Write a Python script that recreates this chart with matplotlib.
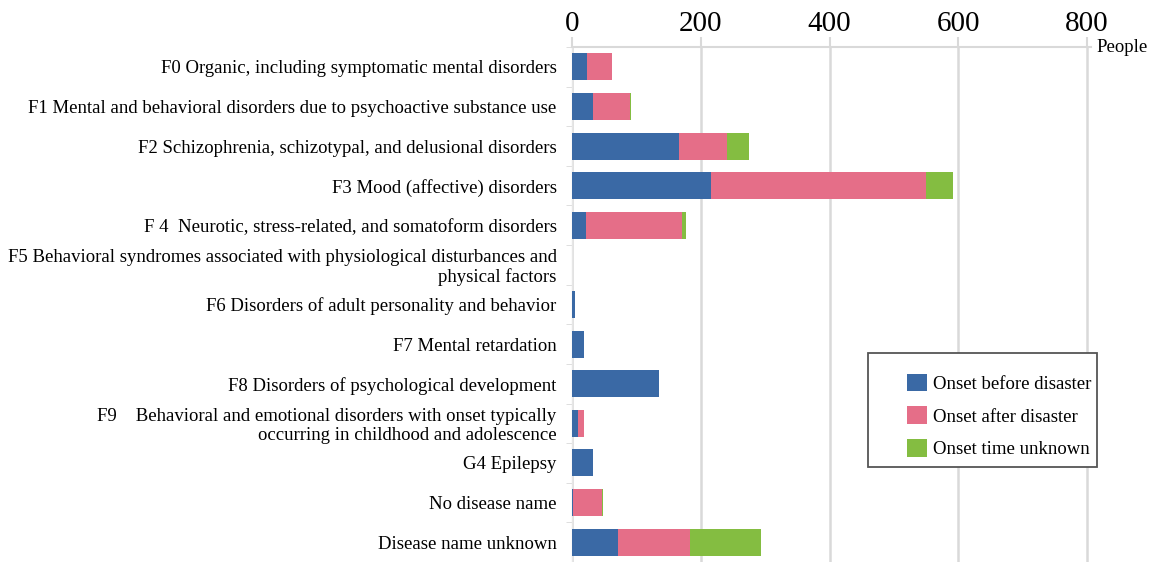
import numpy as np
import matplotlib.pyplot as plt
from matplotlib.patches import Rectangle

# categories and values (people)
categories = [
    'F0 Organic, including symptomatic mental disorders',
    'F1 Mental and behavioral disorders due to psychoactive substance use',
    'F2 Schizophrenia, schizotypal, and delusional disorders',
    'F3 Mood (affective) disorders',
    'F 4  Neurotic, stress-related, and somatoform disorders',
    'F5 Behavioral syndromes associated with physiological disturbances and\nphysical factors',
    'F6 Disorders of adult personality and behavior',
    'F7 Mental retardation',
    'F8 Disorders of psychological development',
    'F9    Behavioral and emotional disorders with onset typically\noccurring in childhood and adolescence',
    'G4 Epilepsy',
    'No disease name',
    'Disease name unknown',
]
before = [23, 33, 166, 216, 21, 0, 5, 19, 135, 9, 32, 1, 72]
after = [39, 57, 75, 334, 150, 0, 0, 0, 0, 9, 0, 45, 111]
unknown = [0, 2, 34, 41, 6, 0, 0, 0, 0, 0, 0, 2, 110]
series_names = ['Onset before disaster', 'Onset after disaster', 'Onset time unknown']
colors = ['#3A69A5', '#E56E88', '#84BD41']
xticks = [0, 200, 400, 600, 800]

plt.rcParams['font.family'] = ['Liberation Serif', 'DejaVu Serif']

fig = plt.figure(figsize=(11.68, 5.62), dpi=100)
ax = fig.add_axes([572 / 1168, 0.0, (1091 - 572) / 1168, 1 - 47 / 562])

y = np.arange(len(categories))
b = np.array(before)
a = np.array(after)
u = np.array(unknown)
h = 0.68
ax.barh(y, b, height=h, color=colors[0], label=series_names[0], zorder=3)
ax.barh(y, a, left=b, height=h, color=colors[1], label=series_names[1], zorder=3)
ax.barh(y, u, left=b + a, height=h, color=colors[2], label=series_names[2], zorder=3)

ax.set_xlim(0, 806)
ax.set_ylim(len(categories) - 0.5, -0.5)

ax.xaxis.tick_top()
ax.set_xticks(xticks)
ax.set_xticklabels([str(t) for t in xticks], fontsize=21)
ax.tick_params(axis='x', length=7, width=1.5, color='#d9d9d9', pad=0)
ax.grid(axis='x', color='#d9d9d9', linewidth=1.8, zorder=0)

ax.set_yticks(y)
ax.set_yticklabels(categories, fontsize=13.5, ha='right', linespacing=1.1)
ax.tick_params(axis='y', length=0, pad=11)
ax.set_yticks(np.arange(len(categories) + 1) - 0.5, minor=True)
ax.tick_params(axis='y', which='minor', length=4, color='#d9d9d9')

for s in ['right', 'bottom']:
    ax.spines[s].set_visible(False)
ax.spines['top'].set_color('#d9d9d9')
ax.spines['top'].set_linewidth(1.5)
ax.spines['left'].set_color('#e6e6e6')
ax.spines['left'].set_linewidth(1.0)

ax.text(1.01, 1.0, 'People', transform=ax.transAxes, fontsize=13.5, va='center', ha='left')

# legend box drawn separately
box = Rectangle((868 / 1168, 1 - 467 / 562), 229 / 1168, 114 / 562,
                transform=fig.transFigure, facecolor='white',
                edgecolor='#555555', linewidth=1.3, zorder=4, clip_on=False)
ax.add_patch(box)
leg = ax.legend(loc='center left', bbox_to_anchor=(907 / 1168, 1 - 416 / 562),
                bbox_transform=fig.transFigure,
                fontsize=13.5, frameon=False,
                handlelength=1.07, handleheight=1.07, handletextpad=0.3,
                labelspacing=0.72, borderpad=0, borderaxespad=0)
leg.set_zorder(5)

fig.savefig('out.png', dpi=100)
